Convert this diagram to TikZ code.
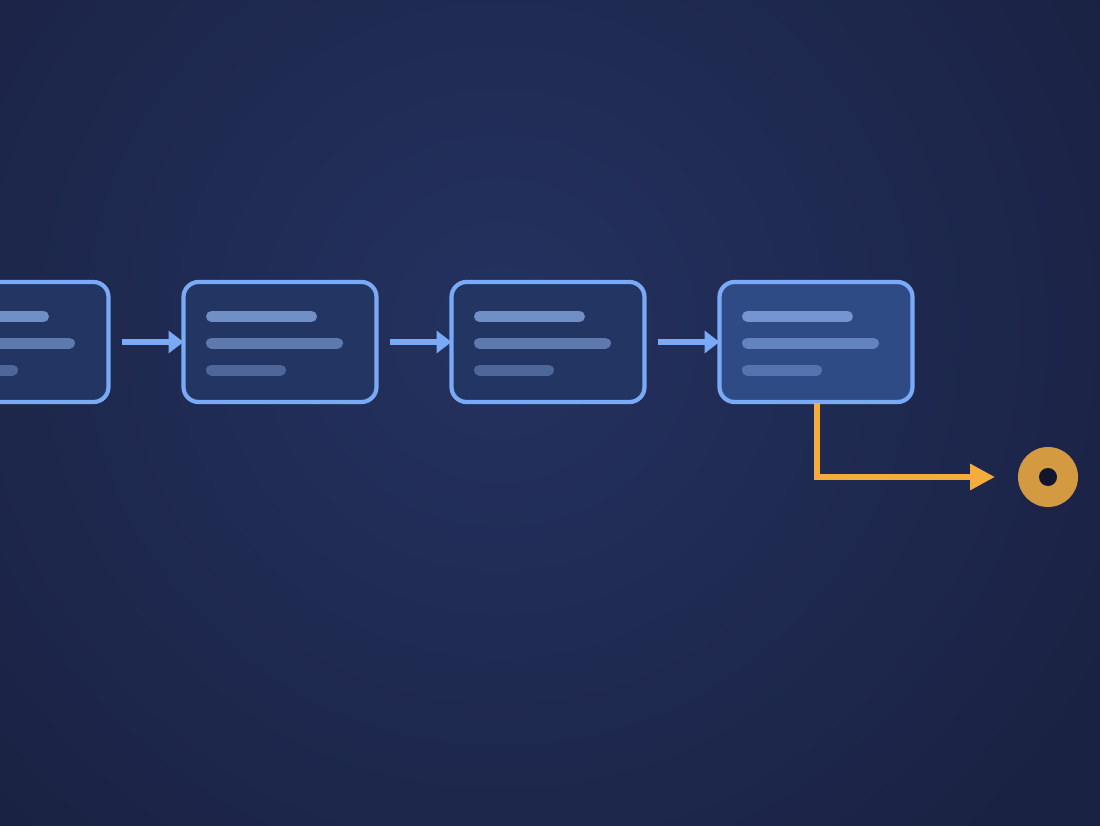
\documentclass[tikz,border=0pt]{standalone}
\usetikzlibrary{arrows.meta}
\definecolor{bgin}{HTML}{243260}
\definecolor{bgout}{HTML}{1A2243}
\definecolor{boxfill}{HTML}{233562}
\definecolor{boxfillhi}{HTML}{2F4B86}
\definecolor{boxline}{HTML}{7AAAF5}
\definecolor{txtline}{HTML}{8FB2EE}
\definecolor{flowor}{HTML}{F4AC3C}
\definecolor{dotor}{HTML}{D39A42}
\definecolor{dotin}{HTML}{121530}
\tikzset{
  stage/.style={draw=boxline, line width=4.2pt, fill=boxfill, rounded corners=15pt,
    minimum width=193pt, minimum height=120pt, inner sep=0pt, outer sep=0pt},
  stagehi/.style={stage, fill=boxfillhi},
  tline/.style={line width=11pt, line cap=round, draw=txtline},
  flow/.style={draw=boxline, line width=5.5pt, -{Triangle[length=15pt,width=22pt]}},
  flowend/.style={draw=flowor, line width=6.2pt, -{Triangle[length=25pt,width=25pt]}},
  enddot/.style={circle, fill=dotor, minimum size=60pt, inner sep=0pt, outer sep=0pt},
  enddotin/.style={circle, fill=dotin, minimum size=18pt, inner sep=0pt}
}
\newcommand{\stagelines}[1]{%
  \draw[tline, draw opacity=0.72] ([xshift=28pt,yshift=-34.5pt]#1.north west) -- ++(100pt,0);
  \draw[tline, draw opacity=0.55] ([xshift=28pt,yshift=-61pt]#1.north west) -- ++(126pt,0);
  \draw[tline, draw opacity=0.40] ([xshift=28pt,yshift=-88pt]#1.north west) -- ++(69pt,0);
}
\begin{document}
\begin{tikzpicture}[x=1pt,y=-1pt]
\useasboundingbox (0,0) rectangle (1100,826);
\clip (0,0) rectangle (1100,826);
\fill[bgout] (0,0) rectangle (1100,826);
\shade[inner color=bgin, outer color=bgout] (500,330) circle (700);
\node[stage] (b1) at (12,342) {};
\node[stage] (b2) at (280,342) {};
\node[stage] (b3) at (548,342) {};
\node[stagehi] (b4) at (816,342) {};
\stagelines{b1}
\stagelines{b2}
\stagelines{b3}
\stagelines{b4}
\draw[flow] ([xshift=13pt]b1.east) -- (b2.west);
\draw[flow] ([xshift=13pt]b2.east) -- (b3.west);
\draw[flow] ([xshift=13pt]b3.east) -- (b4.west);
\node[enddot] (end) at (1048,477) {};
\node[enddotin] (endin) at (end.center) {};
\draw[flowend, line join=miter] ([xshift=1pt,yshift=-1pt]b4.south) |- ([xshift=-23pt]end.west);
\end{tikzpicture}
\end{document}
